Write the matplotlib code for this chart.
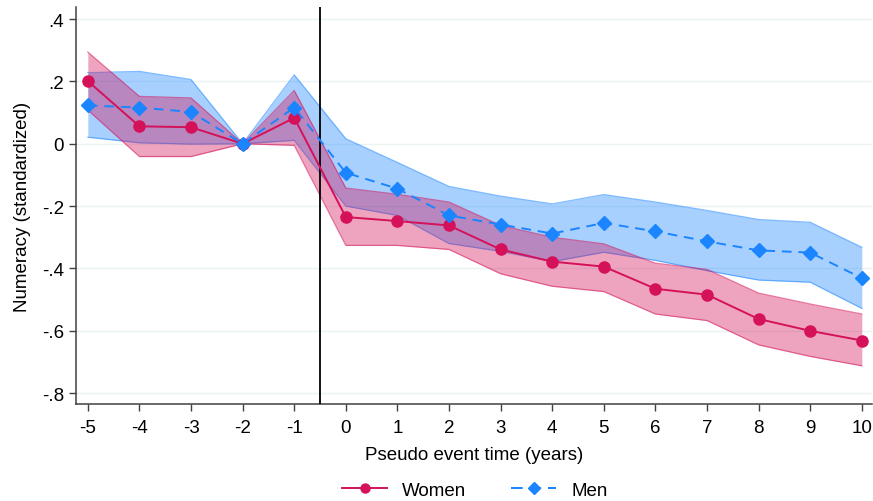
import matplotlib.pyplot as plt
from matplotlib.lines import Line2D

plt.rcParams["font.family"] = ["Liberation Sans", "DejaVu Sans"]
plt.rcParams["axes.unicode_minus"] = False

years = [-5, -4, -3, -2, -1, 0, 1, 2, 3, 4, 5, 6, 7, 8, 9, 10]

women = [0.201, 0.056, 0.053, 0.0, 0.083, -0.235, -0.248, -0.262, -0.339, -0.378,
         -0.394, -0.465, -0.484, -0.562, -0.600, -0.631]
women_hi = [0.294, 0.152, 0.147, 0.0, 0.171, -0.142, -0.162, -0.187, -0.262, -0.300,
            -0.321, -0.383, -0.403, -0.479, -0.514, -0.546]
women_lo = [0.108, -0.041, -0.041, 0.0, -0.005, -0.326, -0.326, -0.339, -0.417, -0.457,
            -0.474, -0.546, -0.567, -0.645, -0.682, -0.712]

men = [0.123, 0.116, 0.102, 0.0, 0.116, -0.093, -0.144, -0.230, -0.259, -0.288,
       -0.254, -0.281, -0.313, -0.342, -0.349, -0.431]
men_hi = [0.228, 0.232, 0.206, 0.0, 0.221, 0.016, -0.060, -0.137, -0.168, -0.193,
          -0.163, -0.187, -0.214, -0.243, -0.252, -0.332]
men_lo = [0.021, 0.003, -0.001, 0.0, 0.011, -0.200, -0.230, -0.320, -0.345, -0.378,
          -0.348, -0.374, -0.407, -0.437, -0.444, -0.528]

yticks = [0.4, 0.2, 0.0, -0.2, -0.4, -0.6, -0.8]
ytick_labels = [".4", ".2", "0", "-.2", "-.4", "-.6", "-.8"]

RED = "#D41159"
BLUE = "#1A85FF"
FS = 13.5

fig = plt.figure(figsize=(8.73, 5.02), dpi=100)
ax = fig.add_axes([0.087, 0.193, 0.912, 0.791])

for y in yticks:
    ax.axhline(y, color="#EAF2F3", lw=1.0, zorder=0)

ax.fill_between(years, men_lo, men_hi, color=BLUE, alpha=0.38, lw=0, zorder=1)
ax.plot(years, men_hi, color=BLUE, alpha=0.55, lw=0.9, zorder=1)
ax.plot(years, men_lo, color=BLUE, alpha=0.55, lw=0.9, zorder=1)
ax.fill_between(years, women_lo, women_hi, color=RED, alpha=0.38, lw=0, zorder=2)
ax.plot(years, women_hi, color=RED, alpha=0.55, lw=0.9, zorder=2)
ax.plot(years, women_lo, color=RED, alpha=0.55, lw=0.9, zorder=2)

ax.plot(years, women, color=RED, lw=1.4, marker="o", ms=8, zorder=4)
ax.plot(years, men, color=BLUE, lw=1.4, ls=(0, (5, 3.5)), marker="D", ms=7.5, zorder=4)

ax.axvline(-0.5, color="black", lw=1.3, zorder=3)

ax.set_xlim(-5.23, 10.2)
ax.set_ylim(-0.835, 0.4385)
ax.set_xticks(years)
ax.set_yticks(yticks, ytick_labels)
ax.tick_params(direction="out", length=5, width=1.0, color="#404040", labelsize=FS)
ax.tick_params(axis="x", pad=6)
for side in ("top", "right"):
    ax.spines[side].set_visible(False)
for side in ("left", "bottom"):
    ax.spines[side].set_color("#404040")
    ax.spines[side].set_linewidth(1.1)

ax.set_xlabel("Pseudo event time (years)", fontsize=FS, labelpad=7)
ax.set_ylabel("Numeracy (standardized)", fontsize=FS, labelpad=8)

handles = [
    Line2D([], [], color=RED, lw=1.4, marker="o", ms=6.5),
    Line2D([], [], color=BLUE, lw=1.4, ls=(0, (6, 3.5)), marker="D", ms=6.5),
]
fig.legend(handles, ["Women", "Men"], loc="center", bbox_to_anchor=(0.544, 0.022),
           ncol=2, frameon=False, fontsize=FS, handlelength=2.4, columnspacing=2.4,
           handletextpad=0.8)

fig.savefig("out.png", dpi=100)
